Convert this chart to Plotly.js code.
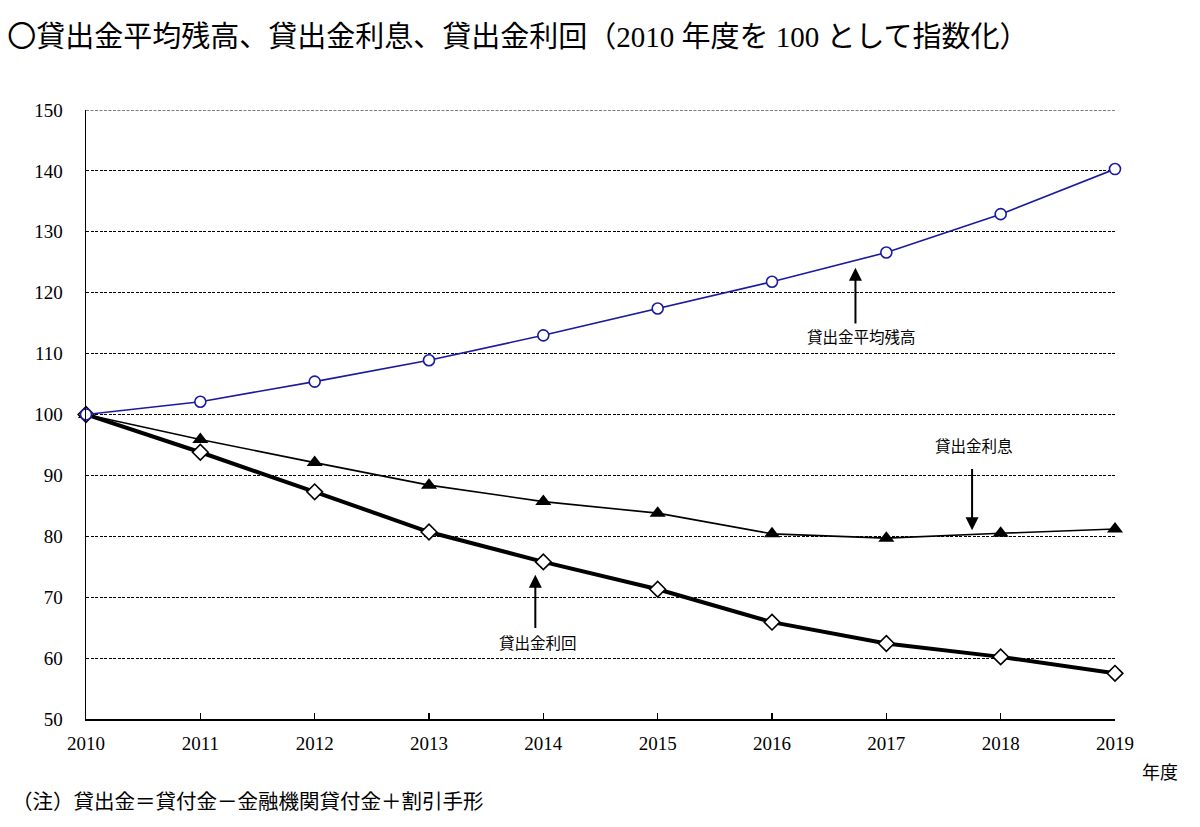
<!DOCTYPE html>
<html>
<head>
<meta charset="utf-8">
<script src="https://cdn.plot.ly/plotly-3.0.1.min.js"></script>
<style>html,body{margin:0;padding:0;background:#fff;}#chart{width:1200px;height:827px;}</style>
</head>
<body>
<div id="chart"></div>
<script>
const years = [2010, 2011, 2012, 2013, 2014, 2015, 2016, 2017, 2018, 2019];
const tickLabels = ['2010','2011','2012','2013','2014','2015','2016','2017','2018','2019'];
const balance = [100, 102.1, 105.4, 108.9, 113.0, 117.4, 121.8, 126.6, 132.9, 140.3];   // 貸出金平均残高
const interest = [100, 95.9, 92.1, 88.4, 85.7, 83.8, 80.4, 79.7, 80.5, 81.2];         // 貸出金利息
const yieldIdx = [100, 93.8, 87.3, 80.7, 75.8, 71.3, 65.9, 62.4, 60.2, 57.5];         // 貸出金利回
const seriesNames = ['貸出金平均残高', '貸出金利息', '貸出金利回'];

const FONT = '"Liberation Serif", "Noto Sans CJK JP", serif';
const GRID_DASH = '3px,1.5px';

const traces = [
  {
    x: years, y: interest, name: seriesNames[1], type: 'scatter', mode: 'lines+markers', cliponaxis: false,
    line: {color: '#000', width: 1.6},
    marker: {symbol: 'triangle-up', size: 14, color: '#000'}
  },
  {
    x: years, y: yieldIdx, name: seriesNames[2], type: 'scatter', mode: 'lines+markers', cliponaxis: false,
    line: {color: '#000', width: 4},
    marker: {symbol: 'diamond', size: 12, color: '#fff', line: {color: '#000', width: 1.6}}
  },
  {
    x: years, y: balance, name: seriesNames[0], type: 'scatter', mode: 'lines+markers', cliponaxis: false,
    line: {color: '#1a1aa0', width: 1.6},
    marker: {symbol: 'circle', size: 11, color: '#fff', line: {color: '#1a1aa0', width: 1.6}}
  }
];

const layout = {
  width: 1200, height: 827,
  margin: {l: 86, r: 85, t: 110, b: 108},
  paper_bgcolor: '#fff', plot_bgcolor: '#fff',
  showlegend: false,
  font: {family: FONT, color: '#000', size: 19},
  title: {
    text: '<span style="font-family:\'Noto Sans CJK JP\'">〇</span>貸出金平均残高、貸出金利息、貸出金利回（2010 年度を 100 として指数化）',
    font: {family: FONT, size: 29, color: '#000'},
    xref: 'container', yref: 'container', x: 0.006, xanchor: 'left', y: 0.955, yanchor: 'middle'
  },
  xaxis: {
    range: [2010, 2019], tickvals: years, ticktext: tickLabels,
    showgrid: false, zeroline: false,
    showline: true, linecolor: '#000', linewidth: 2,
    ticks: 'inside', ticklen: 6, tickcolor: '#000', tickwidth: 1.5,
    tickfont: {family: FONT, size: 19, color: '#000'},
    ticklabelstandoff: 6
  },
  yaxis: {
    range: [50, 150], tickvals: [50, 60, 70, 80, 90, 100, 110, 120, 130, 140, 150],
    showgrid: true, gridcolor: '#000', gridwidth: 1, griddash: GRID_DASH,
    zeroline: false, showline: true, linecolor: '#000', linewidth: 1.5,
    ticks: '', tickfont: {family: FONT, size: 19, color: '#000'},
    ticklabelstandoff: 18
  },
  shapes: [
    {type: 'line', xref: 'paper', yref: 'y', x0: 0, x1: 1, y0: 150, y1: 150, layer: 'below',
     line: {color: '#000', width: 1, dash: GRID_DASH}}
  ],
  annotations: [
    // 貸出金平均残高
    {x: 2016.73, y: 124.1, ax: 2016.73, ay: 114.7, xref: 'x', yref: 'y', axref: 'x', ayref: 'y',
     text: '', showarrow: true, arrowhead: 2, arrowsize: 1.3, arrowwidth: 2, arrowcolor: '#000'},
    {x: 2016.78, y: 112.6, xref: 'x', yref: 'y', text: seriesNames[0], showarrow: false,
     font: {family: FONT, size: 15.5, color: '#000'}},
    // 貸出金利息
    {x: 2017.75, y: 81.0, ax: 2017.75, ay: 91.3, xref: 'x', yref: 'y', axref: 'x', ayref: 'y',
     text: '', showarrow: true, arrowhead: 2, arrowsize: 1.3, arrowwidth: 2, arrowcolor: '#000'},
    {x: 2017.77, y: 94.8, xref: 'x', yref: 'y', text: seriesNames[1], showarrow: false,
     font: {family: FONT, size: 15.5, color: '#000'}},
    // 貸出金利回
    {x: 2013.93, y: 73.7, ax: 2013.93, ay: 64.7, xref: 'x', yref: 'y', axref: 'x', ayref: 'y',
     text: '', showarrow: true, arrowhead: 2, arrowsize: 1.3, arrowwidth: 2, arrowcolor: '#000'},
    {x: 2013.95, y: 62.4, xref: 'x', yref: 'y', text: seriesNames[2], showarrow: false,
     font: {family: FONT, size: 15.5, color: '#000'}},
    // 年度
    {x: 0, y: 0, xref: 'paper', yref: 'paper', text: '年度', showarrow: false,
     font: {family: FONT, size: 18, color: '#000'}},
    // note
    {x: 0, y: 0, xref: 'paper', yref: 'paper', text: '（注）貸出金＝貸付金－金融機関貸付金＋割引手形', showarrow: false,
     font: {family: FONT, size: 20.5, color: '#000'}}
  ]
};

// place paper annotations from pixel positions
(function () {
  const pw = 1200 - 86 - 85, ph = 827 - 110 - 108;
  const a = layout.annotations;
  a[6].x = (1160 - 86) / pw; a[6].y = (719 - 773) / ph; a[6].xanchor = 'center'; a[6].yanchor = 'middle';
  a[7].x = (10 - 86) / pw; a[7].y = (719 - 802) / ph; a[7].xanchor = 'left'; a[7].yanchor = 'middle';
})();

Plotly.newPlot('chart', traces, layout, {staticPlot: true, displayModeBar: false});
</script>
</body>
</html>
